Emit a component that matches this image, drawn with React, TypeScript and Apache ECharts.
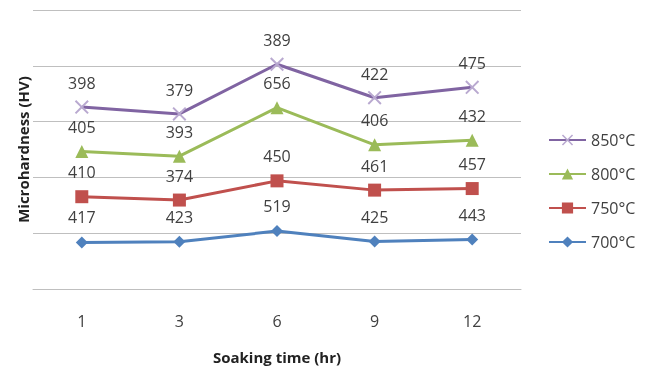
import React, { useEffect, useRef } from "react";
import * as echarts from "echarts";

// Soaking time categories (hr)
const soakingTimes = ["1", "3", "6", "9", "12"];

// Microhardness (HV) per austenitizing temperature
const hv700 = [417, 423, 519, 425, 443];
const hv750 = [410, 374, 450, 461, 457];
const hv800 = [405, 393, 656, 406, 432];
const hv850 = [398, 379, 389, 422, 475];

const seriesNames = ["700°C", "750°C", "800°C", "850°C"];
const legendOrder = ["850°C", "800°C", "750°C", "700°C"];

const TEXT = "#404040";
const GRID = "#BFBFBF";
const FONT = "'Open Sans', 'Noto Sans', sans-serif";

// thin "x" marker
const crossSymbol =
  "path://M0,1L1,0L5,4L9,0L10,1L6,5L10,9L9,10L5,6L1,10L0,9L4,5Z";

export default function App() {
  const ref = useRef<HTMLDivElement>(null);

  useEffect(() => {
    if (!ref.current) return;
    const chart = echarts.init(ref.current, undefined, { renderer: "svg" });

    const mk = (
      name: string,
      data: number[],
      color: string,
      symbol: string,
      symbolSize: number,
      labelDist: number,
      symbolColor?: string
    ) => ({
      name,
      type: "line",
      stack: "hv",
      data,
      symbol,
      symbolSize,
      showAllSymbol: true,
      lineStyle: { color, width: 3 },
      itemStyle: { color: symbolColor || color },
      label: {
        show: true,
        position: "top",
        distance: labelDist,
        color: TEXT,
        fontSize: 16,
        fontFamily: FONT,
      },
      emphasis: { disabled: true },
    });

    chart.setOption({
      animation: false,
      grid: { left: 33, right: 129, top: 10, bottom: 78 },
      legend: {
        data: legendOrder,
        orient: "vertical",
        left: 543,
        top: 127,
        itemWidth: 37,
        itemHeight: 14,
        itemGap: 18,
        textStyle: { color: TEXT, fontSize: 16, fontFamily: FONT },
      },
      xAxis: {
        type: "category",
        data: soakingTimes,
        boundaryGap: true,
        axisLine: { lineStyle: { color: GRID, width: 1 } },
        axisTick: { show: false },
        axisLabel: {
          color: TEXT,
          fontSize: 16,
          fontFamily: FONT,
          margin: 24,
        },
        name: "Soaking time (hr)",
        nameLocation: "middle",
        nameGap: 60,
        nameTextStyle: {
          color: "#222222",
          fontSize: 15,
          fontWeight: "bold",
          fontFamily: FONT,
        },
      },
      yAxis: {
        type: "value",
        min: 0,
        max: 2500,
        interval: 500,
        axisLabel: { show: false },
        axisLine: { show: false },
        axisTick: { show: false },
        splitLine: { lineStyle: { color: GRID, width: 1 } },
        name: "Microhardness (HV)",
        nameLocation: "middle",
        nameGap: 3,
        nameTextStyle: {
          color: "#222222",
          fontSize: 15,
          fontWeight: "bold",
          fontFamily: FONT,
        },
      },
      series: [
        mk(seriesNames[0], hv700, "#4F81BD", "diamond", 12, 11),
        mk(seriesNames[1], hv750, "#C0504D", "rect", 13, 10),
        mk(seriesNames[2], hv800, "#9BBB59", "triangle", 13, 10),
        mk(seriesNames[3], hv850, "#8064A2", crossSymbol, 14, 9, "#B9A9D0"),
      ],
    });

    return () => chart.dispose();
  }, []);

  return (
    <div
      ref={ref}
      style={{ position: "fixed", left: 0, top: 0, width: 650, height: 369 }}
    />
  );
}
